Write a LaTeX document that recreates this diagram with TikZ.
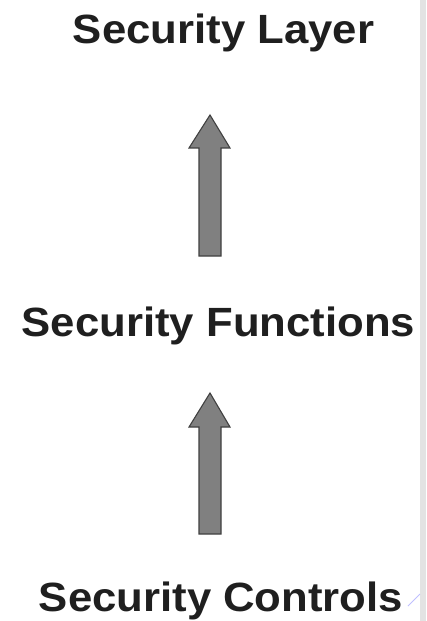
\documentclass[tikz,border=0pt]{standalone}
\usepackage{fontspec}
\setmainfont{Liberation Sans}
\begin{document}
\begin{tikzpicture}[x=1bp,y=-1bp,
  label/.style={font=\fontsize{41}{45}\selectfont\bfseries, text=black!88, inner sep=0pt, anchor=base, xscale=1.07},
  blockarrow/.style={fill=black!50, draw=black!75, line width=1.1pt, line join=miter}]
\fill[white] (0,0) rectangle (426,621);
\useasboundingbox (0,0) rectangle (426,621);
\fill[black!11] (420,0) rectangle (426,621);
\node[label] (layer) at (223.5,43.5) {Security Layer};
\node[label] (func) at (218.5,336) {Security Functions};
\node[label] (ctrl) at (221,611) {Security Controls};
% upper arrow
\coordinate (a1tip) at (210,115);
\draw[blockarrow] (199,256) -- (199,148) -- (189,148) -- (a1tip) -- (230,148) -- (221,148) -- (221,256) -- cycle;
% lower arrow
\coordinate (a2tip) at (210,393);
\draw[blockarrow] (199,534) -- (199,427) -- (189,427) -- (a2tip) -- (230,427) -- (221,427) -- (221,534) -- cycle;
\draw[blue!25, line width=0.8pt] (408,606) -- (420,594);
\end{tikzpicture}
\end{document}
